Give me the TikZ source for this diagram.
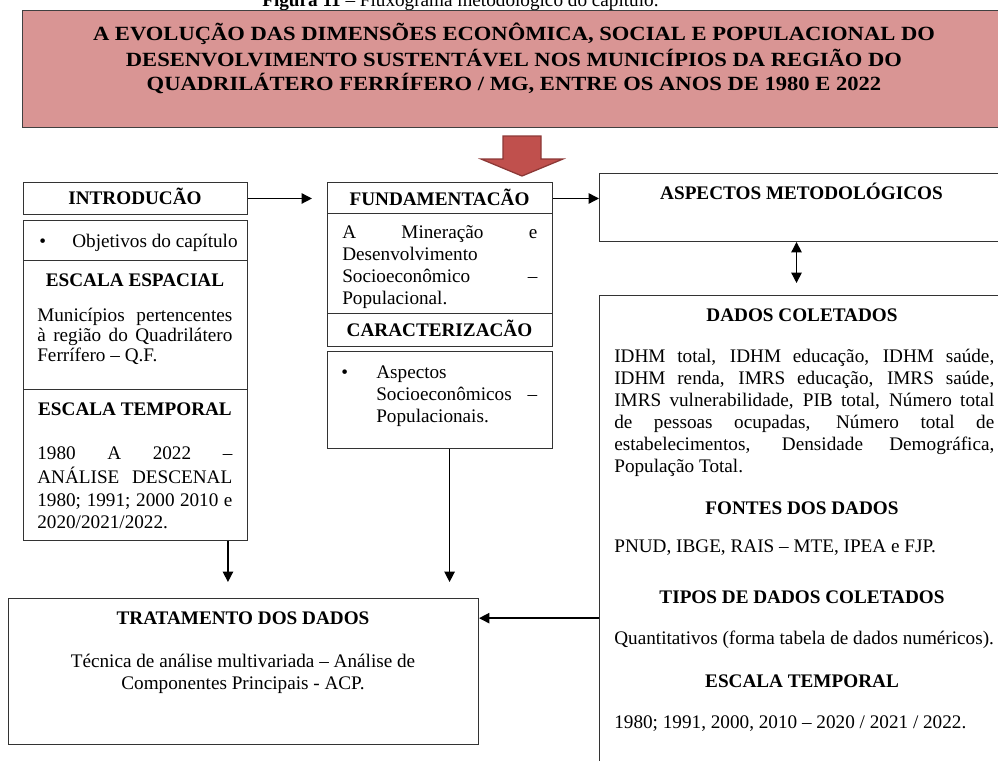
\documentclass[tikz,border=0pt]{standalone}
\usepackage{fontspec}
\setmainfont{Liberation Serif}
\newfontfamily\titlefont[FakeStretch=1.12]{Liberation Serif}
\usepackage{xcolor}
\usetikzlibrary{arrows.meta}

\definecolor{titlepink}{HTML}{D99594}
\definecolor{arrowred}{HTML}{C0504D}
\definecolor{arrowedge}{HTML}{8C3836}

\tikzset{
  frame/.style 2 args={draw=black!80, line width=0.6pt, inner sep=0pt,
    anchor=north west, minimum width=#1, minimum height=#2},
  head/.style={font=\bfseries, inner sep=0pt, anchor=base},
  para/.style={inner sep=0pt, anchor=north west, align=justify, text width=#1},
  txt/.style={inner sep=0pt, anchor=base west},
  rule/.style={draw=black!80, line width=0.6pt},
  >={Triangle[length=6.5pt,width=6.5pt]},
  link/.style={->, line width=0.9pt},
}

\begin{document}
\begin{tikzpicture}[x=0.625pt, y=-0.625pt]
  \fontsize{12}{13.8}\selectfont\hyphenpenalty=10000
  \useasboundingbox (0,0) rectangle (998,760);

  % Caption (cut at the top)
  \node[txt] (caption) at (262,6) {\textbf{Figura 11} -- Fluxograma metodológico do capítulo.};

  % Title
  \node[frame={615pt}{73.1pt}, fill=titlepink, draw=black!75, line width=0.8pt] (title) at (22,10) {};
  \node[inner sep=0pt, align=center, anchor=north,
        font=\titlefont\bfseries\fontsize{12.6}{15}\selectfont] (titletext) at (514,23)
    {\strut A EVOLUÇÃO DAS DIMENSÕES ECONÔMICA, SOCIAL E POPULACIONAL DO\\
     DESENVOLVIMENTO SUSTENTÁVEL NOS MUNICÍPIOS DA REGIÃO DO\\
     QUADRILÁTERO FERRÍFERO / MG, ENTRE OS ANOS DE 1980 E 2022};

  % Big red arrow
  \coordinate (bigarrow) at (522,136);
  \draw[arrowedge, fill=arrowred, line width=0.8pt]
    (503,136) -- (541,136) -- (541,159) -- (563,159) -- (522,176)
    -- (481,159) -- (503,159) -- cycle;

  % Introducao
  \node[frame={140pt}{20pt}] (intro) at (23,182) {};
  \node[head] (introhead) at (135,204.4) {INTRODUCÃO};

  \node[frame={140pt}{200pt}] (left) at (23,220) {};
  \draw[rule] (23,260) -- (247,260);
  \draw[rule] (23,389) -- (247,389);
  \node[txt] (objbullet) at (39,247) {\textbullet};
  \node[txt] (obj) at (72,247) {Objetivos do capítulo};
  \node[head] (esphead) at (135,286.4) {ESCALA ESPACIAL};
  \node[para=121.9pt, font=\fontsize{12}{12.4}\selectfont] (esptext) at (37,307.6)
    {\strut Municípios pertencentes\linebreak à região do Quadrilátero\linebreak Ferrífero -- Q.F.};
  \node[head] (temphead) at (135,415.4) {ESCALA TEMPORAL};
  \node[para=121.9pt] (temptext) at (37,443.5)
    {\strut 1980 A 2022 --\linebreak ANÁLISE DESCENAL\linebreak 1980; 1991; 2000 2010 e\linebreak 2020/2021/2022.};

  % Fundamentacao
  \node[frame={140.6pt}{102.5pt}] (fund) at (327,182) {};
  \draw[rule] (327,213) -- (552,213);
  \draw[rule] (327,313) -- (552,313);
  \node[head] (fundhead) at (439.5,205.4) {FUNDAMENTACÃO};
  \node[para=121.9pt] (fundtext) at (342,222.5)
    {\strut A Mineração e\linebreak Desenvolvimento\newline Socioeconômico --\linebreak Populacional.};
  \node[head] (carachead) at (439.5,336.4) {CARACTERIZACÃO};

  \node[frame={140.6pt}{60.6pt}] (carac) at (327,351) {};
  \node[txt] (caracbullet) at (341,378) {\textbullet};
  \node[para=100.6pt] (caractext) at (376,362.5)
    {\strut Aspectos\newline Socioeconômicos --\linebreak Populacionais.};

  % Aspectos metodologicos
  \node[frame={256.3pt}{42.5pt}] (aspect) at (599,173) {};
  \node[head] (aspecthead) at (801.5,199.4) {ASPECTOS METODOLÓGICOS};

  % Dados coletados
  \node[frame={256.3pt}{312.5pt}] (dados) at (599,295) {};
  \node[head] (dadoshead) at (802,321.4) {DADOS COLETADOS};
  \node[para=237.5pt] (dadostext) at (614,346.5)
    {\strut IDHM total, IDHM educação, IDHM saúde,\linebreak
     IDHM renda, IMRS educação, IMRS saúde,\linebreak
     IMRS vulnerabilidade, PIB total, Número total\linebreak
     de pessoas ocupadas, Número total de\linebreak
     estabelecimentos, Densidade Demográfica,\linebreak
     População Total.};
  \node[head] (fonteshead) at (802,514.4) {FONTES DOS DADOS};
  \node[txt] (fontes) at (614,552) {PNUD, IBGE, RAIS -- MTE, IPEA e FJP.};
  \node[head] (tiposhead) at (802,603.4) {TIPOS DE DADOS COLETADOS};
  \node[txt] (tipos) at (614,644) {Quantitativos (forma tabela de dados numéricos).};
  \node[head] (escalahead) at (802,687.4) {ESCALA TEMPORAL};
  \node[txt] (escala) at (614,728) {1980; 1991, 2000, 2010 -- 2020 / 2021 / 2022.};

  % Tratamento dos dados
  \node[frame={293.8pt}{91.3pt}] (trat) at (8,598) {};
  \node[head] (trathead) at (243,624.4) {TRATAMENTO DOS DADOS};
  \node[inner sep=0pt, align=center, anchor=north] (trattext) at (243,651.5)
    {\strut Técnica de análise multivariada -- Análise de\\ Componentes Principais - ACP.};

  % Connectors
  \draw[link, shorten >=9.4pt] (intro.east) -- (intro.east -| fund.west);
  \draw[link] (intro.east -| fund.east) -- (intro.east -| aspect.west);
  \draw[link, <->, shorten >=7.5pt] ([xshift=-5pt]aspect.south) -- ([xshift=-5pt]aspect.south |- dados.north);
  \draw[link, shorten >=10pt] ([xshift=-12.5pt]left.south east) -- ([xshift=-12.5pt]left.south east |- trat.north);
  \draw[link, shorten >=10pt] ([xshift=6pt]carac.south) -- ([xshift=6pt]carac.south |- trat.north);
  \draw[link] (trathead.center -| dados.west) -- (trathead.center -| trat.east);
\end{tikzpicture}
\end{document}
